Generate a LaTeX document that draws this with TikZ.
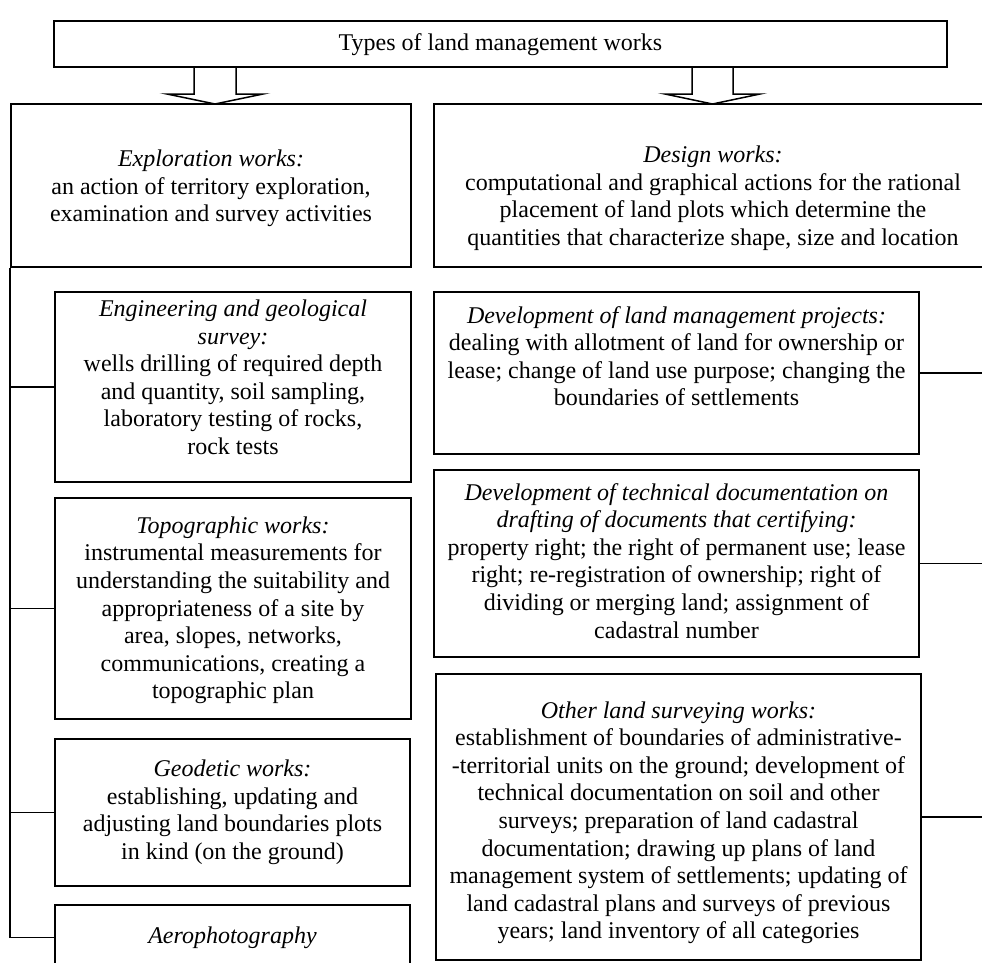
\documentclass[tikz,border=0pt]{standalone}
\usepackage{fontspec}
\setmainfont{Liberation Serif}
% text block shifted vertically inside its box (positive = up)
\newcommand\tb[2]{\raisebox{#1}[\height][\depth]{\begin{tabular}{@{}c@{}}#2\end{tabular}}}
\begin{document}
\begin{tikzpicture}[x=1pt,y=-1pt,
  box/.style={draw, line width=1.8pt, align=center, inner sep=0pt, fill=white,
              font=\fontsize{24}{27.6}\selectfont},
  link/.style={line width=1.8pt},
  barrow/.style={line width=1.5pt, line join=miter}]
\useasboundingbox (0,0) rectangle (982,962);
\fill[white] (0,0) rectangle (982,962);

\node[box, minimum width=893pt, minimum height=46pt] (top) at (500.5,44) {\tb{-1pt}{Types of land management works}};

\node[box, minimum width=400pt, minimum height=163pt] (explore) at (211,185.5)
  {\tb{-3pt}{\textit{Exploration works:}\\an action of territory exploration,\\examination and survey activities}};
\node[box, minimum width=558pt, minimum height=163pt] (design) at (713,185.5)
  {\tb{-13pt}{\textit{Design works:}\\computational and graphical actions for the rational\\placement of land plots which determine the\\quantities that characterize shape, size and location}};

\node[box, minimum width=356pt, minimum height=190pt] (eng) at (233,387)
  {\tb{7pt}{\textit{Engineering and geological}\\\textit{survey:}\\wells drilling of required depth\\and quantity, soil sampling,\\laboratory testing of rocks,\\rock tests}};
\node[box, minimum width=356pt, minimum height=221pt] (topo) at (233,608.5)
  {\tb{-2pt}{\textit{Topographic works:}\\instrumental measurements for\\understanding the suitability and\\appropriateness of a site by\\area, slopes, networks,\\communications, creating a\\topographic plan}};
\node[box, minimum width=355pt, minimum height=147pt] (geo) at (232.5,812.5)
  {\tb{0pt}{\textit{Geodetic works:}\\establishing, updating and\\adjusting land boundaries plots\\in kind (on the ground)}};
\node[box, minimum width=355pt, minimum height=65pt] (aero) at (232.5,937.5)
  {\tb{0pt}{\textit{Aerophotography}}};

\node[box, minimum width=485pt, minimum height=162pt] (dev) at (676.5,373)
  {\tb{14pt}{\textit{Development of land management projects:}\\dealing with allotment of land for ownership or\\lease; change of land use purpose; changing the\\boundaries of settlements}};
\node[box, minimum width=485pt, minimum height=187pt] (tech) at (676.5,563.5)
  {\tb{0pt}{\textit{Development of technical documentation on}\\\textit{drafting of documents that certifying:}\\property right; the right of permanent use; lease\\right; re-registration of ownership; right of\\dividing or merging land; assignment of\\cadastral number}};
\node[box, minimum width=485pt, minimum height=286pt] (other) at (678.5,817)
  {\tb{-6pt}{\textit{Other land surveying works:}\\establishment of boundaries of administrative-\\-territorial units on the ground; development of\\technical documentation on soil and other\\surveys; preparation of land cadastral\\documentation; drawing up plans of land\\management system of settlements; updating of\\land cadastral plans and surveys of previous\\years; land inventory of all categories}};

% block arrows
\draw[barrow] (194,67) -- (194,94) -- (167,94) -- (215,104) -- (263,94) -- (236,94) -- (236,67);
\draw[barrow] (692,67) -- (692,94) -- (665,94) -- (712.5,104) -- (760,94) -- (733,94) -- (733,67);

% left trunk
\draw[link] (explore.south west) -- (aero.west -| explore.south west) -- (aero.west);
\draw[link] (eng.west -| explore.south west) -- (eng.west);
\draw[link] (topo.west -| explore.south west) -- (topo.west);
\draw[link] (geo.west -| explore.south west) -- (geo.west);

% right stubs
\coordinate (R) at (995,0);
\draw[link] (dev.east) -- (dev.east -| R);
\draw[link] (tech.east) -- (tech.east -| R);
\draw[link] (other.east) -- (other.east -| R);
\end{tikzpicture}
\end{document}
